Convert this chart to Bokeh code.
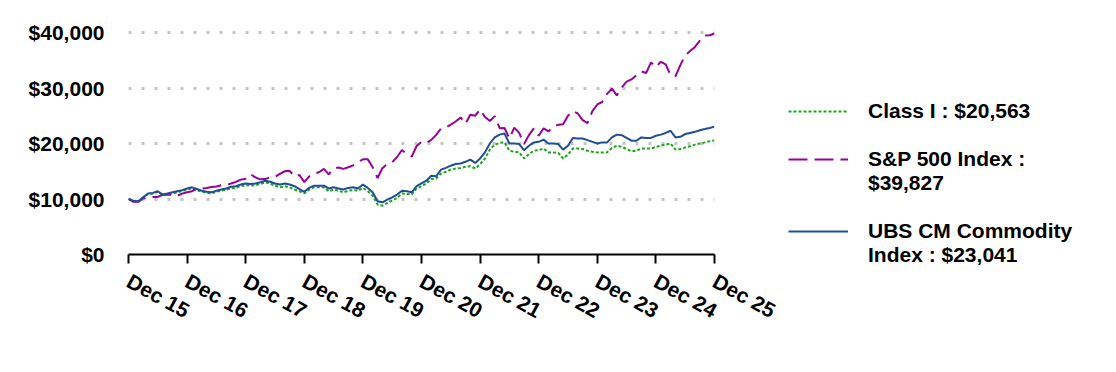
import math
from bokeh.plotting import figure
from bokeh.models import (ColumnDataSource, FixedTicker, NumeralTickFormatter,
                          Legend, LegendItem, Range1d)
from bokeh.embed import file_html
from bokeh.resources import INLINE

# x: month index from Dec 2015 (0) to Dec 2025 (120)
tick_months = [0, 12, 24, 36, 48, 60, 72, 84, 96, 108, 120]
tick_labels = ["Dec 15", "Dec 16", "Dec 17", "Dec 18", "Dec 19", "Dec 20",
               "Dec 21", "Dec 22", "Dec 23", "Dec 24", "Dec 25"]
y_ticks = [0, 10000, 20000, 30000, 40000]

class_i = [
    10.0, 9.6, 9.5, 10.2, 10.9, 11.0, 11.3, 10.7, 10.9, 11.0, 11.2, 11.4,
    11.7, 11.9, 11.6, 11.3, 11.1, 11.0, 11.3, 11.5, 11.7, 11.9, 12.0, 12.3,
    12.5, 12.4, 12.5, 12.7, 13.0, 12.8, 12.4, 12.1, 12.3, 12.1, 11.7, 11.4,
    11.0, 11.7, 12.1, 12.1, 12.1, 11.4, 11.7, 11.5, 11.2, 11.5, 11.6, 11.5,
    12.0, 11.4, 10.6, 9.0, 8.8, 9.3, 9.7, 10.2, 11.0, 10.9, 10.8, 11.9,
    12.3, 12.8, 13.6, 13.7, 14.6, 14.9, 15.3, 15.5, 15.6, 15.8, 15.9, 15.5,
    16.3, 17.3, 18.9, 19.8, 20.1, 20.2, 18.7, 18.5, 18.4, 17.3, 18.1, 18.7,
    18.8, 19.1, 18.4, 18.4, 18.3, 17.3, 18.0, 19.1, 19.1, 19.0, 18.7, 18.5,
    18.4, 18.4, 18.4, 19.2, 19.6, 19.4, 19.0, 18.6, 18.7, 19.1, 19.1, 19.1,
    19.4, 19.6, 19.8, 20.0, 18.9, 19.0, 19.3, 19.5, 19.8, 20.0, 20.2, 20.4,
    20.563,
]

sp500 = [
    10.0, 9.50, 9.49, 10.13, 10.17, 10.35, 10.38, 10.76, 10.78, 10.78, 10.58, 10.97,
    11.20, 11.41, 11.86, 11.87, 11.99, 12.16, 12.24, 12.49, 12.53, 12.79, 13.08, 13.49,
    13.64, 14.42, 13.89, 13.54, 13.59, 13.92, 14.00, 14.52, 15.00, 15.08, 14.05, 14.33,
    13.04, 14.09, 14.54, 14.82, 15.42, 14.44, 15.46, 15.68, 15.43, 15.72, 16.06, 16.64,
    17.15, 17.14, 15.73, 13.79, 15.56, 16.30, 16.62, 17.56, 18.82, 18.11, 17.62, 19.55,
    20.30, 20.10, 20.65, 21.56, 22.71, 22.87, 23.40, 23.96, 24.69, 23.54, 25.19, 25.01,
    26.14, 24.78, 24.04, 24.93, 22.76, 22.80, 20.92, 22.85, 21.92, 19.90, 21.51, 22.71,
    21.40, 22.75, 22.19, 23.01, 23.37, 23.47, 25.02, 25.82, 25.41, 24.20, 23.69, 25.85,
    27.03, 27.48, 28.95, 29.88, 28.66, 30.08, 31.16, 31.54, 32.30, 32.99, 32.69, 34.61,
    33.78, 34.72, 34.27, 32.34, 32.10, 34.12, 35.86, 36.66, 37.40, 38.53, 39.45, 39.51,
    39.827,
]

ubs_cm = [
    10.0, 9.7, 9.6, 10.3, 11.0, 11.1, 11.4, 10.8, 11.0, 11.2, 11.4, 11.6,
    11.9, 12.1, 11.8, 11.5, 11.3, 11.2, 11.5, 11.7, 11.9, 12.2, 12.3, 12.6,
    12.8, 12.7, 12.8, 13.0, 13.3, 13.1, 12.8, 12.6, 12.8, 12.6, 12.3, 11.8,
    11.3, 12.0, 12.4, 12.4, 12.4, 11.9, 12.1, 11.9, 11.7, 12.0, 12.1, 11.9,
    12.6, 12.0, 11.2, 9.6, 9.4, 9.9, 10.3, 10.8, 11.5, 11.4, 11.2, 12.3,
    12.8, 13.3, 14.2, 14.1, 15.3, 15.6, 16.0, 16.3, 16.4, 16.7, 17.1, 16.5,
    17.3, 18.4, 20.0, 21.1, 21.6, 21.8, 20.0, 20.0, 19.9, 18.8, 19.6, 20.2,
    20.3, 20.7, 20.0, 20.0, 19.9, 18.9, 19.6, 21.0, 20.9, 20.9, 20.6, 20.3,
    20.0, 20.2, 20.2, 21.1, 21.6, 21.5, 21.0, 20.5, 20.5, 21.1, 21.0, 21.0,
    21.4, 21.6, 21.9, 22.3, 21.1, 21.2, 21.7, 21.9, 22.1, 22.4, 22.6, 22.8,
    23.041,
]

legend_labels = ["Class I : $20,563",
                 " \nS&P 500 Index :\n$39,827",
                 " \nUBS CM Commodity\nIndex : $23,041"]

months = list(range(len(class_i)))
src = ColumnDataSource(dict(
    m=months,
    cls=[v * 1000 for v in class_i],
    sp=[v * 1000 for v in sp500],
    ubs=[v * 1000 for v in ubs_cm],
))

FONT = "Liberation Sans"

p = figure(frame_width=586, frame_height=224, output_backend="svg",
           toolbar_location=None,
           x_range=Range1d(0, 120), y_range=Range1d(0, 40000 * 224 / 222),
           min_border_left=128, min_border_right=0, min_border_top=30,
           min_border_bottom=102)
p.outline_line_color = None
p.background_fill_color = "white"

r_cls = p.line("m", "cls", source=src, line_color="#1aa61a", line_width=2,
               line_dash="3 2")
r_sp = p.line("m", "sp", source=src, line_color="#990099", line_width=2,
              line_dash="19 7")
r_ubs = p.line("m", "ubs", source=src, line_color="#1f4e96", line_width=2)

# axes
xa = p.xaxis[0]
xa.ticker = FixedTicker(ticks=tick_months)
xa.major_label_overrides = {m: l for m, l in zip(tick_months, tick_labels)}
xa.major_label_orientation = -0.5
xa.axis_line_width = 2
xa.axis_line_color = "black"
xa.major_tick_line_width = 2
xa.major_tick_in = 0
xa.major_tick_out = 9
xa.minor_tick_line_color = None
xa.major_label_text_font = FONT
xa.major_label_text_font_style = "bold"
xa.major_label_text_font_size = "21px"
xa.major_label_text_color = "black"
xa.major_label_standoff = 16

ya = p.yaxis[0]
ya.ticker = FixedTicker(ticks=y_ticks)
ya.formatter = NumeralTickFormatter(format="$0,0")
ya.axis_line_color = None
ya.major_tick_line_color = None
ya.minor_tick_line_color = None
ya.major_label_text_font = FONT
ya.major_label_text_font_style = "bold"
ya.major_label_text_font_size = "21px"
ya.major_label_text_color = "black"
ya.major_label_standoff = 18

p.xgrid.grid_line_color = None
p.ygrid.ticker = FixedTicker(ticks=y_ticks[1:])
p.ygrid.grid_line_color = "#c4c4c4"
p.ygrid.grid_line_width = 3
p.ygrid.grid_line_dash = "3 10"

legend = Legend(items=[
    LegendItem(label=legend_labels[0], renderers=[r_cls]),
    LegendItem(label=legend_labels[1], renderers=[r_sp]),
    LegendItem(label=legend_labels[2], renderers=[r_ubs]),
], location=(74, -13))
legend.border_line_color = None
legend.background_fill_alpha = 0
legend.glyph_width = 60
legend.label_standoff = 20
legend.label_width = 290
legend.spacing = 0
legend.padding = 0
legend.margin = 0
legend.label_text_font = FONT
legend.label_text_font_style = "bold"
legend.label_text_font_size = "21px"
legend.label_text_color = "black"
p.add_layout(legend, "right")

open("out.html", "w").write(file_html(p, INLINE))
